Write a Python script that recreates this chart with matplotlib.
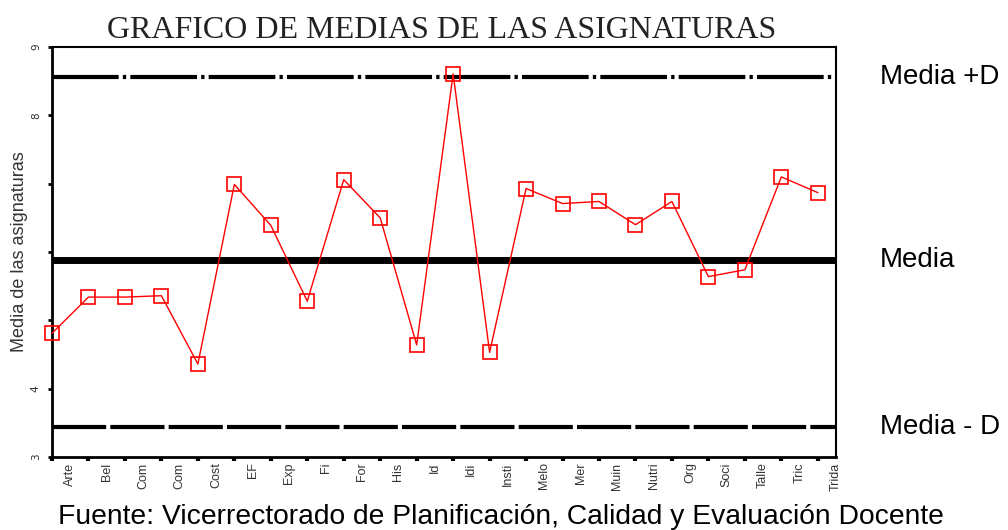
import matplotlib
matplotlib.use("Agg")
import matplotlib.pyplot as plt

# asignaturas y sus medias
asignaturas = ["Arte", "Bel", "Com", "Com", "Cost", "EF", "Exp", "Fi", "For", "His", "Id",
               "Idi", "Insti", "Melo", "Mer", "Muin", "Nutri", "Org", "Soci", "Talle", "Tric", "Trida"]
medias = [4.81, 5.34, 5.34, 5.36, 4.36, 6.99, 6.39, 5.28, 7.06, 6.50, 4.64,
          8.61, 4.53, 6.93, 6.71, 6.74, 6.40, 6.74, 5.64, 5.74, 7.10, 6.87]

media = 5.89
media_mas_d = 8.56
media_menos_d = 3.44

yticks = [3, 4, 5, 6, 7, 8, 9]
ytick_labels = ["3", "4", "", "", "", "8", "9"]

fig = plt.figure(figsize=(10.08, 5.30), dpi=100)
ax = fig.add_axes([0.0516, 0.138, 0.7778, 0.773])

x = list(range(len(medias)))
ax.plot(x, medias, color="red", lw=1, marker="s", markersize=10,
        markerfacecolor="none", markeredgecolor="red", markeredgewidth=1.2, zorder=3,
        clip_on=False)

# lineas de referencia (dashes escalan con el grosor de linea)
ax.axhline(media_mas_d, color="black", lw=3, dashes=(16, 1, 0.8, 1), zorder=2)
ax.axhline(media, color="black", lw=5, zorder=2)
ax.axhline(media_menos_d, color="black", lw=3, dashes=(13, 1), zorder=2)

ax.set_xlim(0, 21.2)
ax.set_ylim(3, 9)

ax.set_yticks(yticks)
ax.set_yticklabels(ytick_labels, rotation=90, va="center", fontsize=7.5, color="#333333")
ax.tick_params(axis="y", length=3, width=2, pad=5)

ax.set_xticks(x)
ax.set_xticklabels([])
ax.tick_params(axis="x", which="major", length=3, width=3)
ax.set_xticks([i + 0.5 for i in x], minor=True)
ax.set_xticklabels(asignaturas, minor=True, rotation=90, va="top", fontsize=9,
                   color="#333333", family="Liberation Sans")
ax.tick_params(axis="x", which="minor", length=0, pad=4)

for s in ax.spines.values():
    s.set_linewidth(1.5)
ax.spines["left"].set_linewidth(2)
ax.spines["bottom"].set_linewidth(2)

ax.set_ylabel("Media de las asignaturas", fontsize=13, color="#333333",
              family="Liberation Sans", labelpad=2)

fig.text(0.438, 0.943, "GRAFICO DE MEDIAS DE LAS ASIGNATURAS", ha="center", va="center",
         fontsize=23, family="Liberation Serif", color="#222222")

for val, txt in [(media_mas_d, "Media +D"), (media, "Media"), (media_menos_d, "Media - D")]:
    ax.annotate(txt, xy=(1, val), xycoords=("axes fraction", "data"), xytext=(44, 0),
                textcoords="offset pixels", ha="left", va="center", fontsize=20,
                family="Liberation Sans", color="black", annotation_clip=False)

fig.text(0.497, 0.025, "Fuente: Vicerrectorado de Planificación, Calidad y Evaluación Docente",
         ha="center", va="center", fontsize=20.3, family="Liberation Sans", color="black")

fig.savefig("out.png", dpi=100)
